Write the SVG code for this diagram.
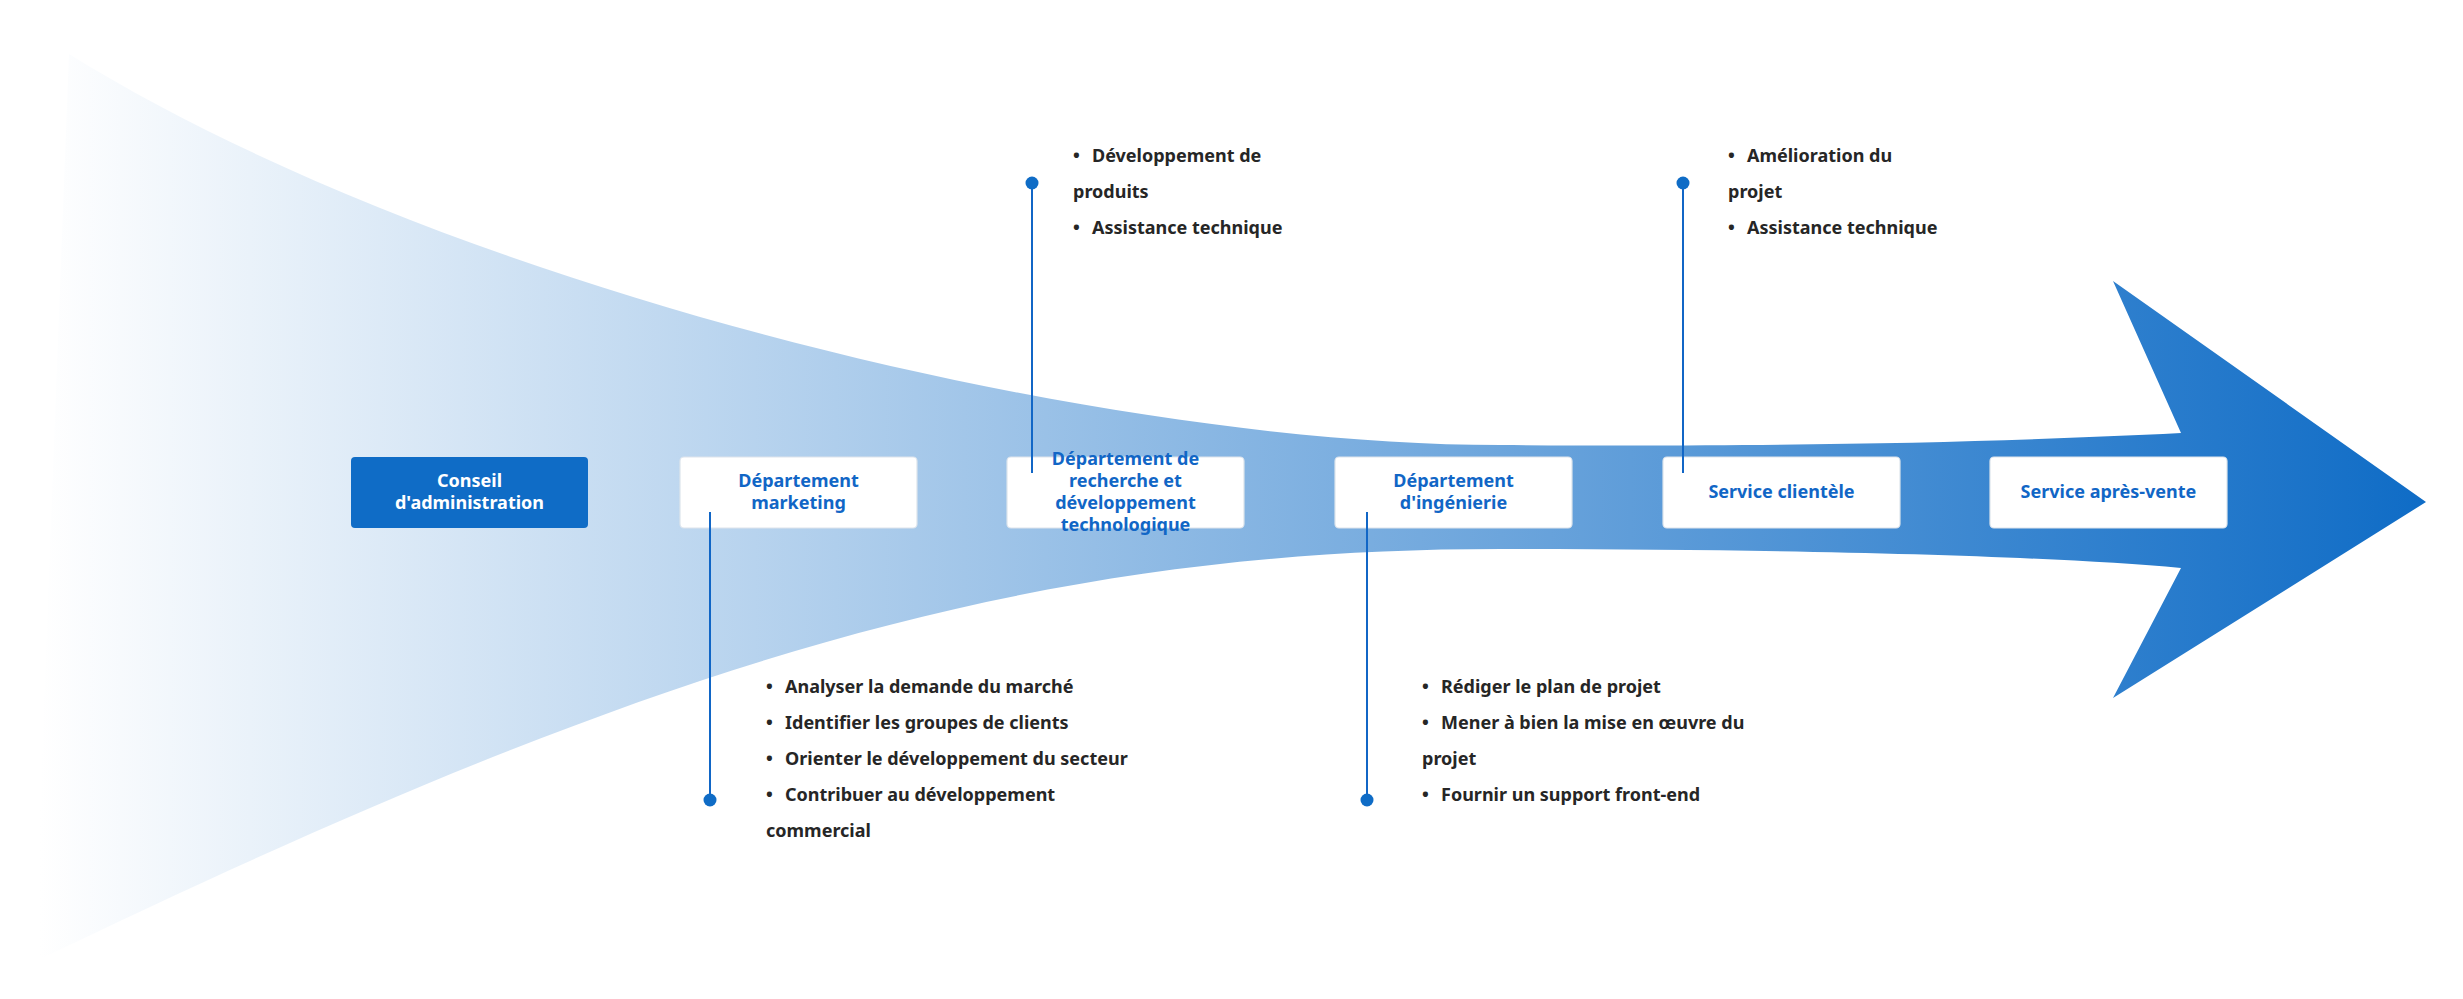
<svg xmlns="http://www.w3.org/2000/svg" width="2463" height="999" viewBox="0 0 2463 999">
<defs>
<linearGradient id="flow" gradientUnits="userSpaceOnUse" x1="40" y1="0" x2="2426" y2="0">
<stop offset="0" stop-color="#ffffff"/>
<stop offset="1" stop-color="#0f6cc6"/>
</linearGradient>
<style>
.box{fill:#ffffff;stroke:#dde4ec;stroke-width:1.2}
.boxd{fill:#0f6cc6;stroke:none}
.lbl{font-family:"Noto Sans","Liberation Sans",sans-serif;font-size:18px;font-weight:700;fill:#1166c6;text-anchor:middle}
.lblw{fill:#ffffff}
.bul{font-family:"Noto Sans","Liberation Sans",sans-serif;font-size:18px;font-weight:700;fill:#262626}
.con{stroke:#1166c6;stroke-width:2;fill:none}
.dot{fill:#0f6cc6}
</style>
</defs>
<rect width="2463" height="999" fill="#ffffff"/>
<path id="flow-arrow" fill="url(#flow)" d="M 69 54 C 450 290, 1100 445, 1500 445 C 1800 447, 2000 442, 2181 433 L 2113 281 L 2426 502 L 2113 698 L 2181 568 C 2050 556, 1800 549, 1500 549 C 1000 549, 620 680, 34 962 Z"/>
<g id="node-conseil">
<rect class="boxd" x="351" y="457" width="237" height="71" rx="4"/>
<text class="lbl lblw" x="469.5" y="487">Conseil</text>
<text class="lbl lblw" x="469.5" y="509">d'administration</text>
</g>
<g id="node-marketing">
<rect class="box" x="680" y="457" width="237" height="71" rx="4"/>
<text class="lbl" x="798.5" y="487">Département</text>
<text class="lbl" x="798.5" y="509">marketing</text>
</g>
<g id="node-rd">
<rect class="box" x="1007" y="457" width="237" height="71" rx="4"/>
<text class="lbl" x="1125.5" y="465">Département de</text>
<text class="lbl" x="1125.5" y="487">recherche et</text>
<text class="lbl" x="1125.5" y="509">développement</text>
<text class="lbl" x="1125.5" y="531">technologique</text>
</g>
<g id="node-ingenierie">
<rect class="box" x="1335" y="457" width="237" height="71" rx="4"/>
<text class="lbl" x="1453.5" y="487">Département</text>
<text class="lbl" x="1453.5" y="509">d'ingénierie</text>
</g>
<g id="node-clientele">
<rect class="box" x="1663" y="457" width="237" height="71" rx="4"/>
<text class="lbl" x="1781.5" y="498">Service clientèle</text>
</g>
<g id="node-apresvente">
<rect class="box" x="1990" y="457" width="237" height="71" rx="4"/>
<text class="lbl" x="2108.5" y="498">Service après-vente</text>
</g>
<g id="connectors">
<line class="con" x1="710" y1="512" x2="710" y2="800"/>
<circle class="dot" cx="710" cy="800" r="6.5"/>
<line class="con" x1="1032" y1="183" x2="1032" y2="473"/>
<circle class="dot" cx="1032" cy="183" r="6.5"/>
<line class="con" x1="1367" y1="512" x2="1367" y2="800"/>
<circle class="dot" cx="1367" cy="800" r="6.5"/>
<line class="con" x1="1683" y1="183" x2="1683" y2="473"/>
<circle class="dot" cx="1683" cy="183" r="6.5"/>
</g>
<g id="notes-marketing">
<text class="bul" x="766" y="693">•</text><text class="bul" x="785" y="693">Analyser la demande du marché</text>
<text class="bul" x="766" y="729">•</text><text class="bul" x="785" y="729">Identifier les groupes de clients</text>
<text class="bul" x="766" y="765">•</text><text class="bul" x="785" y="765">Orienter le développement du secteur</text>
<text class="bul" x="766" y="801">•</text><text class="bul" x="785" y="801">Contribuer au développement</text>
<text class="bul" x="766" y="837">commercial</text>
</g>
<g id="notes-rd">
<text class="bul" x="1073" y="162">•</text><text class="bul" x="1092" y="162">Développement de</text>
<text class="bul" x="1073" y="198">produits</text>
<text class="bul" x="1073" y="234">•</text><text class="bul" x="1092" y="234">Assistance technique</text>
</g>
<g id="notes-ingenierie">
<text class="bul" x="1422" y="693">•</text><text class="bul" x="1441" y="693">Rédiger le plan de projet</text>
<text class="bul" x="1422" y="729">•</text><text class="bul" x="1441" y="729">Mener à bien la mise en œuvre du</text>
<text class="bul" x="1422" y="765">projet</text>
<text class="bul" x="1422" y="801">•</text><text class="bul" x="1441" y="801">Fournir un support front-end</text>
</g>
<g id="notes-clientele">
<text class="bul" x="1728" y="162">•</text><text class="bul" x="1747" y="162">Amélioration du</text>
<text class="bul" x="1728" y="198">projet</text>
<text class="bul" x="1728" y="234">•</text><text class="bul" x="1747" y="234">Assistance technique</text>
</g>
</svg>
